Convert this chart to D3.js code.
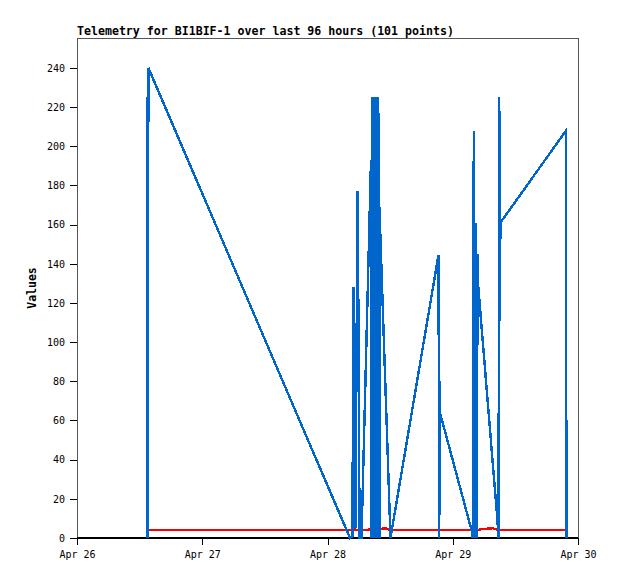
<!DOCTYPE html>
<html>
<head>
<meta charset="utf-8">
<script src="https://cdn.jsdelivr.net/npm/d3@7"></script>
<style>
  body { margin: 0; background: #fff; }
  text { font-family: "DejaVu Sans Mono", "Liberation Mono", monospace; }
</style>
</head>
<body>
<svg id="chart"></svg>
<script>
// x-axis tick labels
const dayTicks = ["2024-04-26", "2024-04-27", "2024-04-28", "2024-04-29", "2024-04-30"];
// y-axis tick values
const valueTicks = [0, 20, 40, 60, 80, 100, 120, 140, 160, 180, 200, 220, 240];

// blue series: [time, value]
const blueSeries = [
  ["2024-04-26T13:25Z", 0], ["2024-04-26T13:28Z", 225], ["2024-04-26T13:32Z", 0], ["2024-04-26T13:41Z", 240],
  ["2024-04-28T04:19Z", 0], ["2024-04-28T04:47Z", 1], ["2024-04-28T04:57Z", 128], ["2024-04-28T05:08Z", 28],
  ["2024-04-28T05:22Z", 5], ["2024-04-28T05:45Z", 177], ["2024-04-28T06:00Z", 88], ["2024-04-28T06:08Z", 0],
  ["2024-04-28T06:31Z", 0], ["2024-04-28T08:20Z", 193], ["2024-04-28T08:23Z", 0], ["2024-04-28T08:26Z", 192],
  ["2024-04-28T08:29Z", 0], ["2024-04-28T08:32Z", 192], ["2024-04-28T08:35Z", 0], ["2024-04-28T08:38Z", 225],
  ["2024-04-28T08:41Z", 0], ["2024-04-28T08:44Z", 225], ["2024-04-28T08:47Z", 0], ["2024-04-28T08:50Z", 225],
  ["2024-04-28T08:53Z", 0], ["2024-04-28T08:56Z", 225], ["2024-04-28T08:59Z", 0], ["2024-04-28T09:02Z", 225],
  ["2024-04-28T09:05Z", 0], ["2024-04-28T09:08Z", 200], ["2024-04-28T09:11Z", 0], ["2024-04-28T09:14Z", 225],
  ["2024-04-28T09:17Z", 0], ["2024-04-28T09:20Z", 225], ["2024-04-28T09:23Z", 0], ["2024-04-28T09:26Z", 225],
  ["2024-04-28T09:29Z", 2], ["2024-04-28T09:32Z", 225], ["2024-04-28T09:35Z", 0], ["2024-04-28T09:38Z", 225],
  ["2024-04-28T09:41Z", 0], ["2024-04-28T09:44Z", 225], ["2024-04-28T09:47Z", 0], ["2024-04-28T09:50Z", 217],
  ["2024-04-28T09:54Z", 0], ["2024-04-28T09:57Z", 169], ["2024-04-28T10:00Z", 0], ["2024-04-28T10:05Z", 158],
  ["2024-04-28T12:04Z", 0], ["2024-04-28T21:16Z", 144.5], ["2024-04-28T21:25Z", 0], ["2024-04-28T21:29Z", 80],
  ["2024-04-28T21:33Z", 64], ["2024-04-29T03:36Z", 4], ["2024-04-29T03:50Z", 0], ["2024-04-29T04:02Z", 208],
  ["2024-04-29T04:13Z", 0], ["2024-04-29T04:21Z", 161], ["2024-04-29T04:31Z", 0], ["2024-04-29T04:48Z", 145],
  ["2024-04-29T04:54Z", 128], ["2024-04-29T08:34Z", 9], ["2024-04-29T08:46Z", 0], ["2024-04-29T08:55Z", 225],
  ["2024-04-29T09:01Z", 111], ["2024-04-29T09:08Z", 161], ["2024-04-29T21:42Z", 208], ["2024-04-29T21:47Z", 0]
];

// red series
const redSeries = [
  ["2024-04-26T13:25Z", 5], ["2024-04-26T13:32Z", 4], ["2024-04-28T04:47Z", 4], ["2024-04-28T04:57Z", 4.5],
  ["2024-04-28T05:45Z", 4], ["2024-04-28T10:05Z", 4.5], ["2024-04-28T11:00Z", 5], ["2024-04-28T12:04Z", 4],
  ["2024-04-29T04:31Z", 4], ["2024-04-29T05:30Z", 4.5], ["2024-04-29T07:40Z", 5], ["2024-04-29T08:46Z", 4],
  ["2024-04-29T21:42Z", 4]
];

// black series
const blackSeries = [
  ["2024-04-26T13:25Z", 0], ["2024-04-29T21:47Z", 0]
];

const width = 618, height = 579;
const margin = { top: 38, right: 40, bottom: 41, left: 77 };
const innerW = width - margin.left - margin.right;
const innerH = height - margin.top - margin.bottom;

const svg = d3.select("#chart")
  .attr("width", width)
  .attr("height", height);

const xScale = d3.scaleUtc()
  .domain([new Date(dayTicks[0] + "T00:00Z"), new Date(dayTicks[dayTicks.length - 1] + "T00:00Z")])
  .range([0, innerW]);

const yScale = d3.scaleLinear()
  .domain([0, 255.3])
  .range([innerH, 0]);

const chart = svg.append("g")
  .attr("transform", `translate(${margin.left},${margin.top})`);

// title
svg.append("text")
  .attr("x", margin.left)
  .attr("y", 35)
  .attr("font-size", "11.6px")
  .attr("font-weight", "bold")
  .text("Telemetry for BI1BIF-1 over last 96 hours (101 points)");

// y label
svg.append("text")
  .attr("transform", `translate(36,${margin.top + innerH / 2}) rotate(-90)`)
  .attr("text-anchor", "middle")
  .attr("font-size", "11.5px")
  .attr("font-weight", "bold")
  .text("Values");

// plot border
chart.append("rect")
  .attr("width", innerW)
  .attr("height", innerH)
  .attr("fill", "none")
  .attr("stroke", "#555")
  .attr("stroke-width", 1)
  .attr("shape-rendering", "crispEdges");

const yAxis = d3.axisLeft(yScale)
  .tickValues(valueTicks)
  .tickSize(7)
  .tickPadding(5)
  .tickSizeOuter(0);

const xAxis = d3.axisBottom(xScale)
  .tickValues(dayTicks.map(d => new Date(d + "T00:00Z")))
  .tickFormat(d3.utcFormat("%b %d"))
  .tickSize(7)
  .tickPadding(6)
  .tickSizeOuter(0);

const yAxisG = chart.append("g").call(yAxis);
const xAxisG = chart.append("g")
  .attr("transform", `translate(0,${innerH})`)
  .call(xAxis);

[yAxisG, xAxisG].forEach(g => {
  g.select(".domain").remove();
  g.selectAll("line").attr("stroke", "#000").attr("shape-rendering", "crispEdges");
  g.selectAll("text")
    .attr("font-family", "'DejaVu Sans Mono', monospace")
    .attr("font-size", "10px")
    .attr("fill", "#000");
});

// bottom axis line
chart.append("line")
  .attr("x1", 0).attr("x2", innerW)
  .attr("y1", innerH).attr("y2", innerH)
  .attr("stroke", "#000")
  .attr("stroke-width", 2)
  .attr("shape-rendering", "crispEdges");

const line = d3.line()
  .x(d => xScale(new Date(d[0])))
  .y(d => yScale(d[1]));

const series = [
  { data: redSeries, color: "#ff0000" },
  { data: blackSeries, color: "#000000" },
  { data: blueSeries, color: "#0066cc" }
];

chart.selectAll(".series")
  .data(series)
  .join("path")
  .attr("class", "series")
  .attr("fill", "none")
  .attr("stroke", d => d.color)
  .attr("stroke-width", 2.4)
  .attr("shape-rendering", "crispEdges")
  .attr("d", d => line(d.data));
</script>
</body>
</html>
